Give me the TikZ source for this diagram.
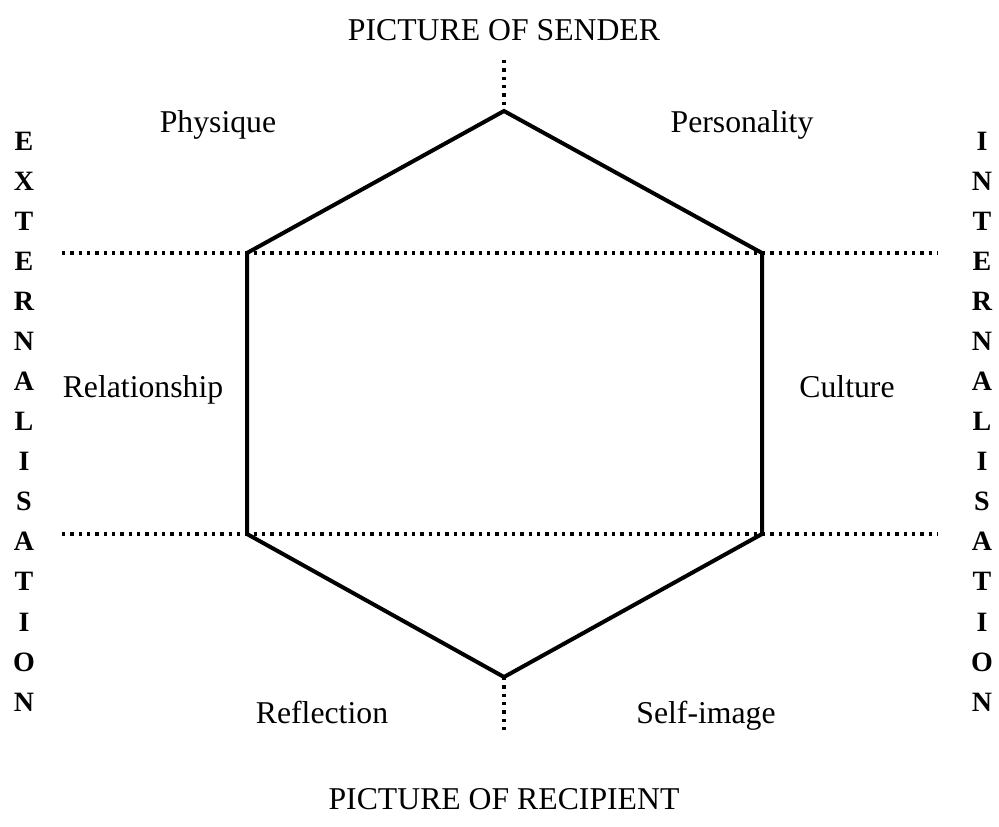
\documentclass[tikz,border=0pt]{standalone}
\usepackage{fontspec}
\setmainfont{Liberation Serif}

\tikzset{every picture/.style={line width=0.75pt}}
\tikzset{
  hexline/.style={line width=3pt, line join=miter},
  dotline/.style={line width=2.5pt, dash pattern=on 2.5pt off 3.75pt},
  lbl/.style={anchor=base, inner sep=0.75pt, font=\fontsize{23.8}{28}\selectfont},
  vletter/.style={inner sep=0.75pt, font=\fontsize{21}{24}\selectfont\bfseries}
}

\begin{document}
\begin{tikzpicture}[x=0.75pt,y=0.75pt,yscale=-1,xscale=1]
\path[use as bounding box] (0,0) rectangle (999,827);

% hexagon corners
\coordinate (top) at (504,111);
\coordinate (ul) at (247,253);
\coordinate (ur) at (762,253);
\coordinate (ll) at (247,534);
\coordinate (lr) at (762,534);
\coordinate (bot) at (504,677);
% ends of the dotted lines
\coordinate (topend) at (504,60);
\coordinate (botend) at (504,730);
\coordinate (uleft) at (62,253);
\coordinate (uright) at (938,253);
\coordinate (lleft) at (62,534);
\coordinate (lright) at (938,534);

%Dotted Lines
\draw [dotline] (topend) -- (top) ;
\draw [dotline] (bot) -- (botend) ;
\draw [dotline] (uleft) -- (uright) ;
\draw [dotline] (lleft) -- (lright) ;

%Hexagon
\draw [hexline] (top) -- (ur) -- (lr) -- (bot) -- (ll) -- (ul) -- cycle ;

% Text Node
\node [lbl] (sender) at (504,41) {PICTURE OF SENDER};
% Text Node
\node [lbl] (recipient) at (504,809) {PICTURE OF RECIPIENT};
% Text Node
\node [lbl] (physique) at (218,133) {Physique};
% Text Node
\node [lbl] (personality) at (742,133) {Personality};
% Text Node
\node [lbl] (relationship) at (143,397) {Relationship};
% Text Node
\node [lbl] (culture) at (847,397) {Culture};
% Text Node
\node [lbl] (reflection) at (322,723) {Reflection};
% Text Node
\node [lbl] (selfimage) at (706,723) {Self-image};

% side words, one letter under the other
\foreach \l [count=\i from 0] in {E,X,T,E,R,N,A,L,I,S,A,T,I,O,N}
  \node [vletter] (ext\i) at (24,141+40.07*\i) {\l};
\foreach \l [count=\i from 0] in {I,N,T,E,R,N,A,L,I,S,A,T,I,O,N}
  \node [vletter] (int\i) at (982,141+40.07*\i) {\l};

\end{tikzpicture}
\end{document}
